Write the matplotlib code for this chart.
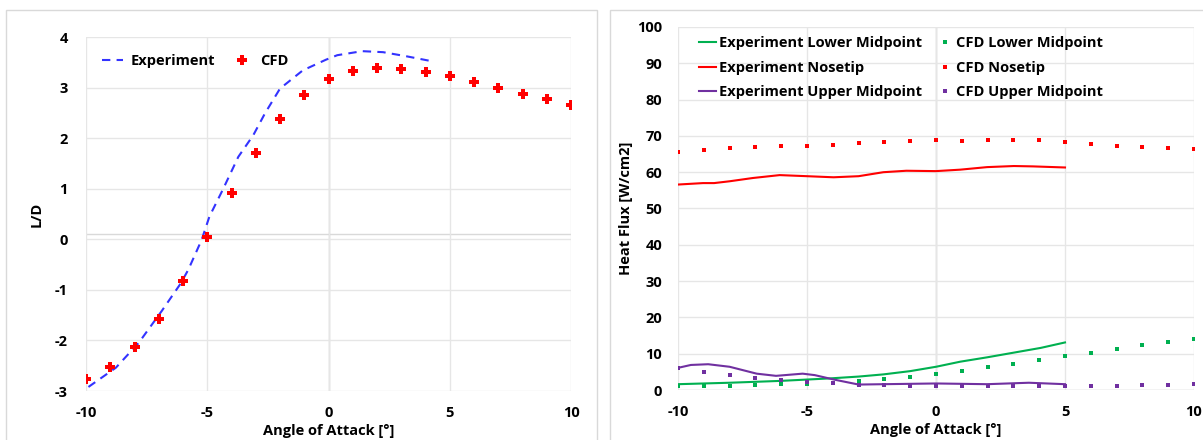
import numpy as np
import matplotlib.pyplot as plt
from matplotlib.patches import Rectangle

plt.rcParams["font.family"] = ["Open Sans", "DejaVu Sans"]
plt.rcParams["font.weight"] = "bold"
plt.rcParams["axes.unicode_minus"] = False

# ---- left panel: L/D ----
aoa = list(range(-10, 11))
cfd_ld = [-2.76, -2.52, -2.13, -1.57, -0.82, 0.04, 0.92, 1.71, 2.38, 2.85, 3.17,
          3.33, 3.38, 3.37, 3.31, 3.23, 3.11, 3.00, 2.88, 2.77, 2.65]
exp_ld_x = [-9.9, -8.77, -7.83, -6.88, -6.09, -5.78, -5.23, -4.91, -4.36, -3.72,
            -3.10, -2.62, -2.0, -1.06, -0.11, 0.36, 1.39, 2.25, 3.2, 4.38]
exp_ld_y = [-2.92, -2.54, -2.05, -1.42, -0.87, -0.60, -0.01, 0.45, 0.98, 1.63,
            2.06, 2.49, 2.98, 3.34, 3.55, 3.64, 3.72, 3.70, 3.62, 3.51]

# ---- right panel: heat flux ----
cfd_nose = [65.7, 66.2, 66.7, 67.0, 67.2, 67.2, 67.6, 68.0, 68.4, 68.7, 68.8,
            68.7, 69.0, 69.0, 68.8, 68.3, 67.8, 67.3, 66.9, 66.8, 66.4]
cfd_lower = [1.1, 1.1, 1.2, 1.4, 1.6, 1.7, 2.0, 2.5, 3.0, 3.7, 4.4,
             5.3, 6.3, 7.3, 8.3, 9.3, 10.3, 11.4, 12.3, 13.2, 14.0]
cfd_upper = [6.0, 5.0, 4.0, 3.3, 2.7, 2.1, 1.8, 1.4, 1.3, 1.2, 1.2,
             1.1, 1.0, 1.0, 1.0, 1.0, 1.1, 1.2, 1.4, 1.5, 1.6]

exp_nose_x = [-10, -9.03, -8.6, -8, -7.1, -6.06, -5, -3.97, -3, -2.04, -1.15,
              0, 0.94, 1.98, 3.02, 3.76, 5]
exp_nose_y = [56.6, 57.0, 57.0, 57.5, 58.4, 59.2, 58.9, 58.6, 58.9, 60.0, 60.4,
              60.3, 60.7, 61.4, 61.7, 61.6, 61.3]
exp_lower_x = [-10, -8, -6.06, -4.1, -3, -2.04, -1, 0, 0.94, 1.98, 3.02, 4.06, 5]
exp_lower_y = [1.6, 2.0, 2.5, 3.2, 3.7, 4.3, 5.2, 6.4, 7.8, 9.0, 10.3, 11.6, 13.1]
exp_upper_x = [-10, -9.5, -8.83, -8, -6.95, -6.2, -5.17, -4.7, -3.97, -3, -2.04,
               0, 1.98, 3.6, 5]
exp_upper_y = [6.1, 6.9, 7.1, 6.4, 4.5, 3.9, 4.5, 4.1, 2.9, 1.5, 1.6,
               1.8, 1.6, 2.0, 1.6]

GREEN = "#00B050"
RED = "#FF0000"
PURPLE = "#7030A0"
BLUE = "#3333FF"
GRID = "#E6E6E6"
AXIS = "#C8C8C8"
FS = 10.5

fig = plt.figure(figsize=(12.03, 4.40), dpi=100)

# panel frames
fig.patches.append(Rectangle((6 / 1203, -0.1), 591 / 1203, 1.1 - 10 / 440,
                             transform=fig.transFigure, fill=False,
                             edgecolor="#D9D9D9", lw=1))
fig.patches.append(Rectangle((610 / 1203, -0.1), 0.6, 1.1 - 10 / 440,
                             transform=fig.transFigure, fill=False,
                             edgecolor="#D9D9D9", lw=1))


def style_axes(ax, ypad):
    for s in ax.spines.values():
        s.set_visible(False)
    ax.tick_params(length=0, labelsize=FS)
    ax.tick_params(axis="x", pad=11)
    ax.tick_params(axis="y", pad=ypad)
    ax.grid(True, color=GRID, lw=1)
    ax.set_axisbelow(True)


# left
ax1 = fig.add_axes([86 / 1203, 49 / 440, 485 / 1203, 354 / 440])
style_axes(ax1, 13)
ax1.set_xlim(-10, 10)
ax1.set_ylim(-3, 4)
ax1.set_xticks([-10, -5, 0, 5, 10])
ax1.set_yticks(range(-3, 5))
ax1.axvline(0, color=AXIS, lw=1, zorder=0.5)
ax1.axhline(0.1, color="#D9D9D9", lw=1, zorder=0.5)
ax1.plot(exp_ld_x, exp_ld_y, color=BLUE, ls=(0, (4, 3)), lw=1.5, label="Experiment")
ax1.plot(aoa, cfd_ld, ls="none", marker="P", ms=7, color=RED, mew=0, label="CFD")
ax1.set_ylabel("L/D", fontsize=FS, fontweight="bold", labelpad=8)
ax1.set_xlabel("Angle of Attack [°]", fontsize=FS, fontweight="bold", labelpad=3)
ax1.legend(loc="upper left", ncol=2, frameon=False,
           bbox_to_anchor=(0.005, 0.99), handlelength=1.5, handletextpad=0.5,
           columnspacing=1.1, prop={"weight": "bold", "size": FS})
for lab in ax1.get_xticklabels() + ax1.get_yticklabels():
    lab.set_fontweight("bold")

# right
ax2 = fig.add_axes([678 / 1203, 50 / 440, 516 / 1203, 363 / 440])
style_axes(ax2, 11.5)
ax2.set_xlim(-10, 10)
ax2.set_ylim(0, 100)
ax2.set_xticks([-10, -5, 0, 5, 10])
ax2.set_yticks(range(0, 101, 10))
ax2.axvline(0, color=AXIS, lw=1, zorder=0.5)
ax2.axhline(0, color="#D9D9D9", lw=1, zorder=0.5)
ax2.plot(exp_lower_x, exp_lower_y, color=GREEN, lw=1.5, label="Experiment Lower Midpoint")
ax2.plot(exp_nose_x, exp_nose_y, color=RED, lw=1.5, label="Experiment Nosetip")
ax2.plot(exp_upper_x, exp_upper_y, color=PURPLE, lw=1.5, label="Experiment Upper Midpoint")
ax2.plot(aoa, cfd_lower, ls="none", marker="s", ms=3.5, mew=0, color=GREEN, label="CFD Lower Midpoint")
ax2.plot(aoa, cfd_nose, ls="none", marker="s", ms=3.5, mew=0, color=RED, label="CFD Nosetip")
ax2.plot(aoa, cfd_upper, ls="none", marker="s", ms=3.5, mew=0, color=PURPLE, label="CFD Upper Midpoint")
ax2.set_ylabel("Heat Flux [W/cm2]", fontsize=FS, fontweight="bold", labelpad=3)
ax2.set_xlabel("Angle of Attack [°]", fontsize=FS, fontweight="bold", labelpad=3)
ax2.legend(loc="upper left", ncol=2, frameon=False, bbox_to_anchor=(0.015, 1.01),
           handlelength=1.2, handletextpad=0.15, columnspacing=1.0, labelspacing=0.72,
           prop={"weight": "bold", "size": FS})
for lab in ax2.get_xticklabels() + ax2.get_yticklabels():
    lab.set_fontweight("bold")

fig.savefig("out.png", dpi=100)
